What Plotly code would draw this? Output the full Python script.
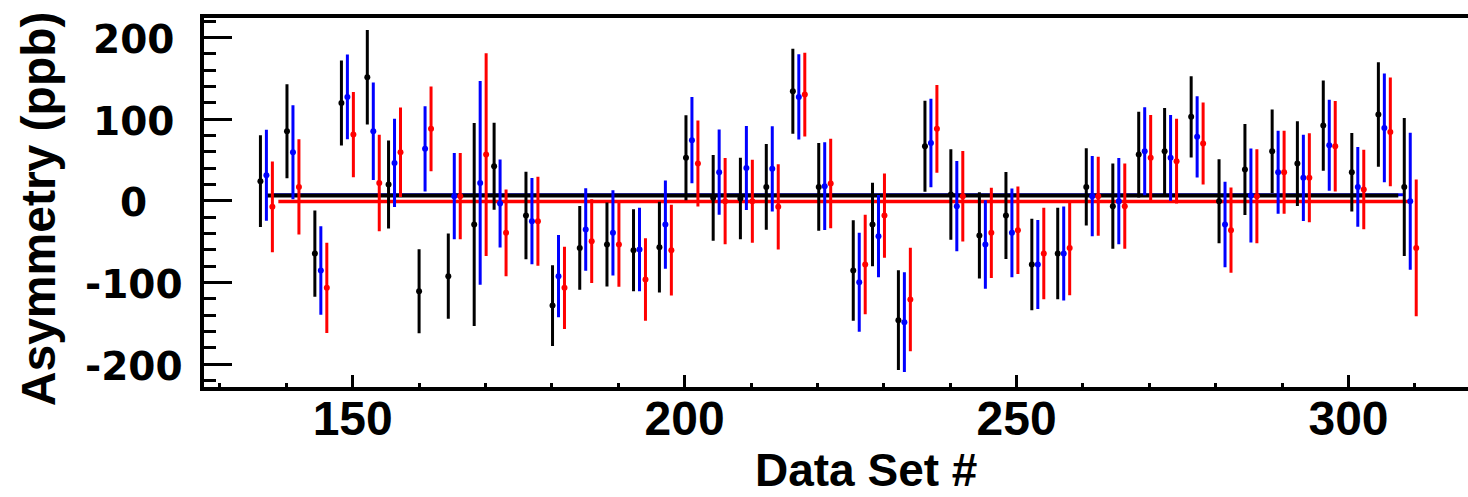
import plotly.graph_objects as go

# Data set numbers (black series position); blue and red are dodged to the right
data_set = [136.1, 140.1, 144.3, 148.3, 152.2, 155.4, 160.0, 164.4, 168.3, 171.3,
            176.1, 180.1, 184.2, 188.3, 192.3, 196.2, 200.2, 204.3, 208.4, 212.3,
            216.3, 220.2, 225.4, 228.3, 232.2, 236.2, 240.1, 244.4, 248.4, 252.3,
            256.2, 260.5, 264.5, 268.4, 272.3, 276.3, 280.5, 284.4, 288.5, 292.3,
            296.2, 300.5, 304.5, 308.4]

asym_black = [24.1, 85.3, -64.5, 120.0, 151.4, 20.0, -110.6, -92.2, -29.0, 42.4,
              -18.0, -128.2, -57.6, -53.5, -60.4, -56.7, 52.7, 3.7, 2.9, 17.1,
              134.3, 17.1, -85.3, -29.0, -146.1, 66.9, 7.8, -42.4, -18.0, -78.0,
              -64.5, 17.1, -6.5, 56.7, 60.8, 102.9, -0.4, 38.4, 60.8, 45.7,
              92.2, 35.1, 105.7, 17.1]
err_black = [54.3, 55.7, 51.0, 50.2, 56.1, 52.0, 49.6, 50.4, 122.4, 51.4,
             51.8, 47.6, 49.4, 49.6, 48.4, 53.7, 50.2, 50.6, 48.2, 50.6,
             50.2, 52.0, 59.8, 49.4, 59.2, 53.9, 53.5, 51.0, 51.4, 54.3,
             54.1, 45.5, 50.4, 50.6, 51.0, 48.0, 49.6, 53.9, 49.4, 50.0,
             53.5, 46.3, 62.2, 82.7]

asym_blue = [31.4, 59.6, -85.3, 127.3, 85.3, 46.5, 63.7, 5.7, 22.0, -3.3,
             -24.9, -92.2, -35.1, -39.2, -59.6, -29.0, 74.3, 35.1, 40.4, 39.2,
             127.3, 18.0, -99.6, -43.3, -148.6, 71.0, -6.5, -53.5, -39.2, -78.0,
             -64.5, 5.7, -0.4, 60.8, 52.7, 78.4, -29.0, 6.5, 35.1, 28.2,
             68.2, 17.1, 89.4, -0.4]
err_blue = [53.9, 55.7, 52.4, 50.0, 58.0, 52.2, 50.4, 51.0, 122.9, 52.0,
            51.0, 48.4, 48.6, 50.4, 49.4, 52.2, 51.0, 50.4, 49.6, 50.4,
            50.4, 52.0, 58.8, 48.5, 59.2, 52.4, 53.5, 52.4, 52.4, 52.7,
            55.7, 47.3, 51.0, 52.0, 50.6, 48.0, 50.6, 55.7, 49.0, 51.0,
            53.9, 46.9, 64.9, 82.0]

asym_red = [-7.3, 17.1, -106.5, 81.2, 22.0, 59.6, 88.2, 5.7, 56.7, -39.2,
            -24.9, -106.5, -49.4, -53.5, -96.3, -60.4, 45.7, -0.4, -0.4, -7.3,
            130.2, 21.2, -78.0, -18.0, -120.8, 88.2, 5.7, -39.2, -35.9, -64.5,
            -57.6, 5.7, -6.5, 52.7, 48.6, 70.2, -35.9, 5.7, 35.1, 28.2,
            66.9, 13.9, 84.5, -57.6]
err_red = [53.8, 56.5, 53.5, 50.4, 57.3, 52.9, 50.2, 51.0, 122.4, 51.4,
           52.6, 48.6, 49.4, 50.0, 48.8, 53.7, 50.8, 51.0, 49.0, 50.4,
           49.4, 53.0, 59.2, 49.8, 61.6, 51.8, 53.5, 53.5, 51.8, 54.1,
           56.1, 46.5, 50.4, 50.6, 50.0, 48.4, 50.4, 55.7, 49.0, 52.7,
           53.5, 46.9, 64.7, 81.8]

# Constant fits (mean asymmetry) and the span of data they cover
fit_black = 6.5
fit_blue = 7.5
fit_red = -0.8
fit_span_black = [137.0, 307.5]
fit_span_blue = [137.9, 308.2]
fit_span_red = [138.8, 309.5]

y_tick_vals = [200, 100, 0, -100, -200]
y_tick_text = ["200", "100", "0", "-100", "-200"]
x_tick_vals = [150, 200, 250, 300]

DODGE = 0.9
BLACK, BLUE, RED = "#000000", "#0000ff", "#ff0000"

fig = go.Figure()

# fit lines underneath the points
for span, level, col, w in [(fit_span_red, fit_red, RED, 3.5),
                            (fit_span_blue, fit_blue, BLUE, 3),
                            (fit_span_black, fit_black, BLACK, 4)]:
    fig.add_trace(go.Scatter(x=span, y=[level, level], mode="lines",
                             line=dict(color=col, width=w),
                             hoverinfo="skip", showlegend=False))

for k, (vals, errs, col) in enumerate([(asym_black, err_black, BLACK),
                                        (asym_blue, err_blue, BLUE),
                                        (asym_red, err_red, RED)]):
    fig.add_trace(go.Scatter(
        x=[d + k * DODGE for d in data_set], y=vals, mode="markers",
        marker=dict(color=col, size=6),
        error_y=dict(type="data", array=errs, visible=True, color=col,
                     thickness=3, width=1.5),
        showlegend=False))

# y tick labels, centred under each other
for v, t in zip(y_tick_vals, y_tick_text):
    fig.add_annotation(x=-0.0554, xref="paper", y=v, yref="y", text=t,
                       showarrow=False, xanchor="center", yanchor="middle",
                       yshift=-2,
                       font=dict(family="DejaVu Sans", size=39, color="black",
                                 weight="bold"))

fig.add_annotation(x=-0.131, xref="paper", y=0.483, yref="paper",
                   text="Asymmetry (ppb)", textangle=-90, showarrow=False,
                   xanchor="center", yanchor="middle",
                   font=dict(family="Liberation Sans", size=48, color="black",
                             weight="bold"))
fig.add_annotation(x=0.524, xref="paper", y=-0.225, yref="paper",
                   text="Data Set #", showarrow=False,
                   xanchor="center", yanchor="middle",
                   font=dict(family="Liberation Sans", size=46, color="black",
                             weight="bold"))

fig.update_layout(
    width=1468, height=497,
    margin=dict(l=204, r=0, t=18, b=110),
    paper_bgcolor="white", plot_bgcolor="white",
    xaxis=dict(range=[127.6, 318.0], showgrid=False, zeroline=False,
               showline=True, linecolor="black", linewidth=4, mirror=True,
               ticks="inside", ticklen=12, tickwidth=3, tickcolor="black",
               tickvals=x_tick_vals, ticklabelstandoff=-14,
               tickfont=dict(family="Liberation Sans", size=48, color="black",
                             weight="bold"),
               minor=dict(ticks="inside", ticklen=4, tickwidth=3,
                          tickcolor="black", dtick=10, tick0=0,
                          showgrid=False)),
    yaxis=dict(range=[-228, 224], showgrid=False, zeroline=False,
               showline=True, linecolor="black", linewidth=4, mirror=False,
               ticks="inside", ticklen=28, tickwidth=3, tickcolor="black",
               tickvals=y_tick_vals, showticklabels=False,
               minor=dict(ticks="inside", ticklen=12, tickwidth=3,
                          tickcolor="black", dtick=20, tick0=0,
                          showgrid=False)),
)

fig.write_html("out.html")
